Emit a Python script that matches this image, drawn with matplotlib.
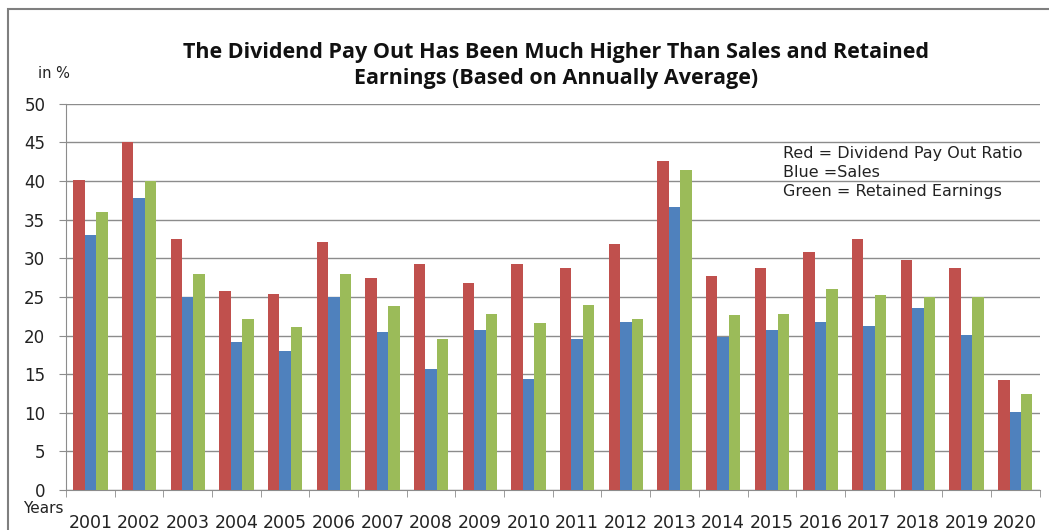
import numpy as np
import matplotlib
matplotlib.use("Agg")
import matplotlib.pyplot as plt
from matplotlib.patches import Rectangle

years = ["2001", "2002", "2003", "2004", "2005", "2006", "2007", "2008", "2009", "2010",
         "2011", "2012", "2013", "2014", "2015", "2016", "2017", "2018", "2019", "2020"]
dividend_payout = [40.2, 45.0, 32.5, 25.8, 25.4, 32.1, 27.5, 29.2, 26.8, 29.3,
                   28.8, 31.8, 42.6, 27.7, 28.8, 30.8, 32.5, 29.8, 28.8, 14.2]
sales = [33.0, 37.8, 25.0, 19.2, 18.0, 25.0, 20.5, 15.7, 20.7, 14.4,
         19.5, 21.8, 36.6, 19.8, 20.7, 21.8, 21.2, 23.6, 20.1, 10.1]
retained_earnings = [36.0, 40.0, 28.0, 22.2, 21.1, 28.0, 23.8, 19.6, 22.8, 21.6,
                     24.0, 22.2, 41.5, 22.6, 22.8, 26.0, 25.3, 25.0, 25.0, 12.4]
y_ticks = [0, 5, 10, 15, 20, 25, 30, 35, 40, 45, 50]

red = "#C0504D"
blue = "#4F81BD"
green = "#9BBB59"

fig = plt.figure(figsize=(10.49, 5.30), dpi=100)
ax = fig.add_axes([0.063, 0.0755, 0.928, 0.7285])

x = np.arange(len(years))
w = 0.235
ax.bar(x - w, dividend_payout, w, color=red, zorder=3)
ax.bar(x, sales, w, color=blue, zorder=3)
ax.bar(x + w, retained_earnings, w, color=green, zorder=3)

ax.set_xlim(-0.5, len(years) - 0.5)
ax.set_ylim(0, 50)
ax.set_yticks(y_ticks)
ax.yaxis.grid(True, color="#8c8c8c", linewidth=1.0, zorder=0)
ax.set_axisbelow(True)

# category labels centered, ticks at the boundaries
ax.set_xticks(x)
ax.set_xticklabels(years, fontsize=12.5, color="#222222")
ax.set_xticks(np.arange(len(years) + 1) - 0.5, minor=True)
ax.tick_params(axis="x", which="major", length=0, pad=17)
ax.tick_params(axis="x", which="minor", length=5, color="#8c8c8c", direction="out")
ax.tick_params(axis="y", length=5, color="#8c8c8c", labelsize=12, labelcolor="#222222", pad=10)

for side in ["top", "right"]:
    ax.spines[side].set_visible(False)
ax.spines["left"].set_color("#8c8c8c")
ax.spines["bottom"].set_color("#8c8c8c")

fig.text(0.53, 0.876, "The Dividend Pay Out Has Been Much Higher Than Sales and Retained\n"
         "Earnings (Based on Annually Average)", ha="center", va="center",
         fontsize=15.5, fontweight="bold", family="Open Sans", linespacing=1.3,
         color="#111111")
fig.text(0.036, 0.862, "in %", fontsize=10.5, color="#222222", va="center")
# axis name sits just under the 0 label, as in the original
fig.text(0.022, 0.04, "Years", fontsize=11, color="#222222", va="center")

ax.text(0.736, 0.89, "Red = Dividend Pay Out Ratio\nBlue =Sales\nGreen = Retained Earnings",
        transform=ax.transAxes, fontsize=11.5, va="top", ha="left", color="#222222",
        linespacing=1.3, zorder=4)

# outer chart frame
fig.patches.append(Rectangle((0.008, -0.1), 1.2, 1.083, transform=fig.transFigure,
                             fill=False, edgecolor="#7f7f7f", linewidth=1.5))

plt.savefig("out.png", dpi=100)
